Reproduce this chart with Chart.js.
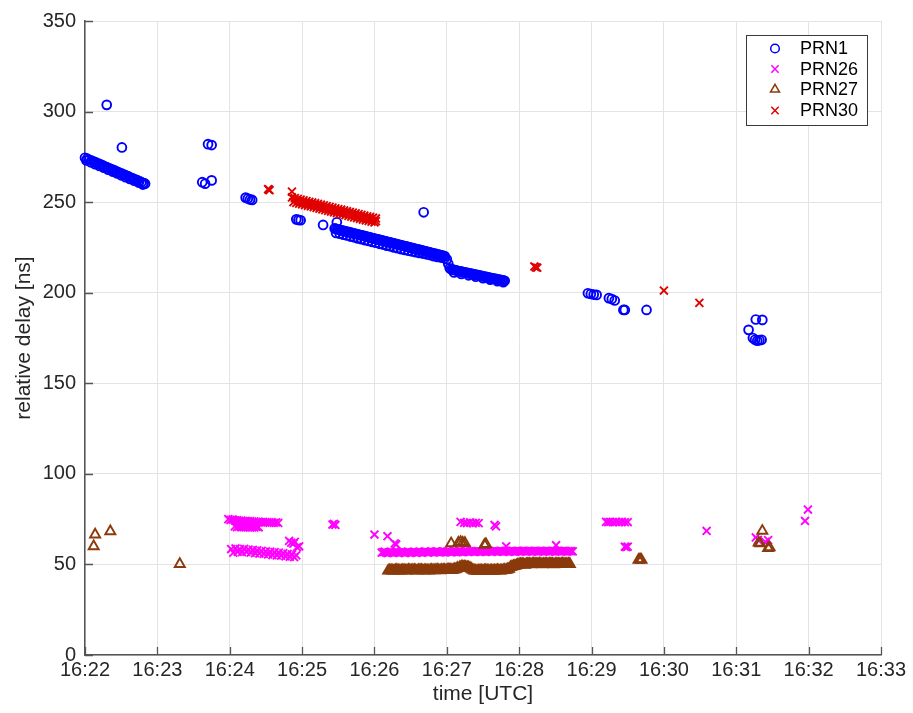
<!DOCTYPE html>
<html>
<head>
<meta charset="utf-8">
<style>
  html, body { margin: 0; padding: 0; background: #ffffff; }
  #wrap { width: 913px; height: 713px; position: relative; }
</style>
<script src="https://cdn.jsdelivr.net/npm/chart.js@4.4.1/dist/chart.umd.min.js"></script>
</head>
<body>
<div id="wrap"><canvas id="c" width="913" height="713"></canvas></div>
<script>
// x values: minutes after 16:00 (UTC); y values: relative delay [ns]
const xTickLabels = ['16:22','16:23','16:24','16:25','16:26','16:27','16:28','16:29','16:30','16:31','16:32','16:33'];
const yTickLabels = [0, 50, 100, 150, 200, 250, 300, 350];
const seriesNames = ['PRN1', 'PRN26', 'PRN27', 'PRN30'];

const prn1Time = [
  22.00,22.03,22.06,22.09,22.12,22.15,22.18,22.21,22.24,22.27,22.30,22.33,22.36,22.39,22.42,22.45,22.48,22.51,22.54,22.57,22.60,22.63,22.66,22.69,22.72,22.75,22.78,22.81,22.83,
  22.02,22.08,22.14,22.20,22.26,22.32,22.38,22.44,22.50,22.56,22.62,22.68,22.74,22.80,
  22.30,22.51,23.62,23.66,23.75,23.70,23.75,24.22,24.25,24.28,24.31,24.92,24.95,24.98,25.29,25.48,
  25.45,25.49,25.53,25.57,25.61,25.65,25.69,25.73,25.77,25.81,25.85,25.89,25.93,25.97,26.01,26.05,26.09,26.13,26.17,26.21,26.25,26.29,26.33,26.37,26.41,26.45,26.49,26.53,26.57,26.61,26.65,26.69,26.73,26.77,26.81,26.85,26.89,26.93,26.97,
  25.47,25.51,25.55,25.59,25.63,25.67,25.71,25.75,25.79,25.83,25.87,25.91,25.95,25.99,26.03,26.07,26.11,26.15,26.19,26.23,26.27,26.31,26.35,26.39,26.43,26.47,26.51,26.55,26.59,26.63,26.67,26.71,26.75,26.79,26.83,26.87,26.91,26.95,
  27.00,27.02,27.04,27.08,27.12,27.16,27.20,27.24,27.28,27.32,27.36,27.40,27.44,27.48,27.52,27.56,27.60,27.64,27.68,27.72,27.76,27.80,
  27.06,27.10,27.14,27.18,27.22,27.26,27.30,27.34,27.38,27.42,27.46,27.50,27.54,27.58,27.62,27.66,27.70,27.74,27.78,
  25.47,25.52,25.57,25.62,25.67,25.72,25.77,25.82,25.87,25.92,25.97,26.02,26.07,26.12,26.17,26.22,26.27,26.32,26.37,26.42,26.47,26.52,26.57,26.62,26.67,26.72,26.77,26.82,26.87,26.92,26.97,
  27.10,27.20,27.30,27.40,27.50,27.60,27.70,27.78,
  26.68,
  28.95,28.99,29.03,29.07,29.24,29.28,29.32,29.44,29.46,29.76,
  31.17,31.23,31.26,31.29,31.32,31.35,31.27,31.36
];
const prn1Delay = [
  274.5,274.0,273.4,273.0,272.4,271.9,271.4,270.9,270.4,269.8,269.3,268.8,268.3,267.8,267.3,266.7,266.2,265.7,265.2,264.7,264.2,263.6,263.1,262.6,262.1,261.6,261.0,260.5,260.2,
  273.0,272.0,271.0,270.0,269.0,267.9,266.9,265.9,264.8,263.8,262.8,261.8,260.8,259.7,
  303.7,280.2,261.0,260.2,262.0,282.0,281.5,252.5,252.0,251.5,251.2,240.5,240.2,240.0,237.4,238.9,
  235.5,235.0,234.6,234.2,233.8,233.4,233.0,232.6,232.2,231.8,231.4,231.0,230.6,230.2,229.8,229.4,229.0,228.6,228.2,227.8,227.4,227.0,226.6,226.2,225.8,225.4,225.0,224.6,224.2,223.8,223.4,223.0,222.6,222.2,221.8,221.4,221.0,220.6,220.2,
  235.2,234.8,234.4,234.0,233.6,233.2,232.8,232.4,232.0,231.6,231.2,230.8,230.4,230.0,229.6,229.2,228.8,228.4,228.0,227.6,227.2,226.8,226.4,226.0,225.6,225.2,224.8,224.4,224.0,223.6,223.2,222.8,222.4,222.0,221.6,221.2,220.8,220.4,
  218.5,216.0,213.5,212.8,212.4,212.0,211.6,211.3,211.0,210.6,210.3,209.9,209.6,209.3,208.9,208.6,208.2,207.9,207.6,207.2,206.9,206.6,
  213.0,212.6,212.2,211.8,211.5,211.1,210.8,210.5,210.1,209.8,209.4,209.1,208.8,208.4,208.1,207.7,207.4,207.1,206.8,
  233.0,232.6,232.0,231.6,231.0,230.6,230.0,229.6,229.0,228.6,228.0,227.6,227.0,226.6,226.0,225.6,225.0,224.6,224.0,223.6,223.2,222.8,222.4,222.0,221.6,221.2,220.8,220.2,219.8,219.4,219.0,
  211.2,210.4,209.6,208.8,208.0,207.2,206.4,205.8,
  244.4,
  199.7,199.3,199.0,198.8,197.0,196.5,195.7,190.5,190.5,190.5,
  179.5,175.0,174.0,173.5,173.8,174.0,185.2,185.0
];

const prn26Time = [
  23.98,24.01,24.04,24.07,24.10,24.13,24.16,24.19,24.22,24.25,24.28,24.31,24.34,24.37,24.40,24.43,24.46,24.49,24.52,24.55,24.58,24.61,24.64,24.67,
  24.07,24.10,24.13,24.16,24.19,24.22,24.25,24.28,24.31,24.34,24.37,24.40,
  24.02,24.05,24.08,24.11,24.14,24.17,24.20,24.23,24.26,24.29,24.32,24.35,24.38,24.41,24.44,24.47,24.50,24.53,24.56,24.59,24.62,24.65,24.68,24.71,24.74,24.77,24.80,24.83,24.86,24.89,24.92,
  24.82,24.85,24.88,24.93,24.96,24.90,
  25.42,25.44,25.46,26.00,26.18,26.28,26.30,
  26.10,26.14,26.18,26.22,26.26,26.30,26.34,26.38,26.42,26.46,26.50,26.54,26.58,26.62,26.66,26.70,26.74,26.78,26.82,26.86,26.90,26.94,26.98,27.02,27.06,27.10,27.14,27.18,27.22,27.26,27.30,27.34,27.38,27.42,27.46,27.50,27.54,27.58,27.62,27.66,27.70,27.74,27.78,27.82,27.86,27.90,27.94,27.98,28.02,28.06,28.10,28.14,28.18,28.22,28.26,28.30,28.34,28.38,28.42,28.46,28.50,28.54,28.58,28.62,28.66,28.70,28.74,
  26.12,26.16,26.20,26.24,26.28,26.32,26.36,26.40,26.44,26.48,26.52,26.56,26.60,26.64,26.68,26.72,26.76,26.80,26.84,26.88,26.92,26.96,27.00,27.04,27.08,27.12,27.16,27.20,27.24,27.28,27.32,27.36,27.40,27.44,27.48,27.52,27.56,27.60,27.64,27.68,27.72,27.76,27.80,27.84,27.88,27.92,27.96,28.00,28.04,28.08,28.12,28.16,28.20,28.24,28.28,28.32,28.36,28.40,28.44,28.48,28.52,28.56,28.60,28.64,28.68,28.72,
  27.82,28.51,
  27.19,27.24,27.28,27.32,27.36,27.40,27.44,27.66,27.68,
  29.20,29.23,29.26,29.30,29.34,29.38,29.42,29.46,29.50,29.46,29.48,29.50,
  30.59,31.27,31.30,31.44,31.40,31.95,31.99
];
const prn26Delay = [
  75.0,74.6,74.8,74.3,74.5,74.0,74.2,73.8,74.0,73.7,73.9,73.5,73.8,73.4,73.6,73.2,73.5,73.1,73.4,73.0,73.3,73.0,73.2,72.9,
  71.0,70.6,70.9,70.5,70.8,70.4,70.7,70.3,70.6,70.4,70.7,70.5,
  58.5,56.5,58.8,57.0,58.5,56.8,58.6,57.0,58.2,56.5,58.0,56.2,57.8,56.0,57.5,55.8,57.2,55.5,57.0,55.2,56.8,55.0,56.5,54.8,56.2,54.5,55.8,54.2,55.5,54.0,55.0,
  63.0,62.0,61.5,59.5,60.0,62.5,
  72.0,72.4,71.8,66.5,65.6,61.6,61.0,
  56.5,57.0,56.3,56.8,56.4,57.0,56.5,56.8,56.3,57.0,56.5,56.9,56.4,57.0,56.6,57.1,56.5,57.0,56.7,57.2,56.6,57.0,56.8,57.2,56.7,57.3,56.9,57.2,56.8,57.4,56.9,57.3,57.0,57.4,56.9,57.3,57.0,57.4,57.0,57.5,57.1,57.4,57.0,57.5,57.1,57.4,57.0,57.5,57.2,57.5,57.1,57.4,57.2,57.5,57.1,57.4,57.2,57.5,57.1,57.4,57.2,57.5,57.2,57.4,57.1,57.4,57.2,
  56.8,56.6,56.6,56.6,56.7,56.8,56.6,56.6,56.7,56.8,56.7,56.7,56.7,56.8,56.9,56.8,56.8,56.9,57.0,56.9,56.8,56.9,57.0,57.0,57.0,57.1,57.0,57.0,57.1,57.2,57.1,57.2,57.2,57.2,57.1,57.2,57.2,57.2,57.3,57.3,57.2,57.2,57.3,57.3,57.2,57.2,57.3,57.3,57.4,57.3,57.3,57.3,57.4,57.3,57.3,57.3,57.4,57.3,57.3,57.3,57.4,57.3,57.3,57.3,57.3,57.3,
  60.0,60.6,
  73.5,73.0,72.8,73.2,72.8,73.0,72.8,71.8,71.0,
  73.5,73.3,73.5,73.3,73.5,73.3,73.5,73.3,73.4,59.8,59.5,59.8,
  68.5,64.9,63.5,63.4,62.5,74.0,80.3
];

const prn27Time = [
  22.14,22.12,22.35,23.31,
  26.19,26.23,26.27,26.31,26.35,26.39,26.43,26.47,26.51,26.55,26.59,26.63,26.67,26.71,26.75,26.79,26.83,26.87,26.91,26.95,26.99,27.03,27.07,27.11,
  26.21,26.25,26.29,26.33,26.37,26.41,26.45,26.49,26.53,26.57,26.61,26.65,26.69,26.73,26.77,26.81,26.85,26.89,26.93,26.97,27.01,27.05,27.09,27.13,27.15,
  27.18,27.22,27.26,27.30,27.34,27.20,27.24,27.28,27.32,27.36,
  27.38,27.42,27.46,27.50,27.54,27.58,27.62,27.66,27.70,27.74,27.78,27.82,27.86,
  27.40,27.44,27.48,27.52,27.56,27.60,27.64,27.68,27.72,27.76,27.80,27.84,
  27.88,27.92,27.96,28.00,28.04,28.08,28.12,28.16,28.20,28.24,28.28,28.32,28.36,28.40,28.44,28.48,28.52,28.56,28.60,28.64,28.68,
  27.90,27.94,27.98,28.02,28.06,28.10,28.14,28.18,28.22,28.26,28.30,28.34,28.38,28.42,28.46,28.50,28.54,28.58,28.62,28.66,28.70,
  27.06,27.16,27.19,27.22,27.25,27.52,27.54,
  29.65,29.67,29.69,
  31.36,31.31,31.33,31.44,31.46
];
const prn27Delay = [
  66.5,60.0,68.3,50.2,
  46.5,46.8,46.6,46.9,46.6,46.8,46.6,46.9,46.7,46.9,46.6,46.9,46.7,46.8,46.6,46.9,46.7,47.0,46.7,47.0,46.8,47.2,46.9,47.3,
  46.7,46.6,46.8,46.7,46.7,46.8,46.7,46.8,46.8,46.7,46.8,46.8,46.7,46.7,46.8,46.8,46.9,46.8,46.9,46.9,47.0,47.0,47.1,47.5,48.0,
  48.5,48.8,48.6,48.3,47.5,48.7,48.7,48.5,48.0,47.0,
  46.6,46.4,46.7,46.5,46.8,46.5,46.7,46.5,46.8,46.6,46.8,47.0,47.5,
  46.5,46.6,46.6,46.7,46.6,46.6,46.6,46.7,46.7,46.7,46.9,47.2,
  48.5,49.0,49.5,50.0,50.2,49.8,50.3,50.0,50.4,50.1,50.4,50.0,50.3,50.1,50.4,50.0,50.3,50.1,50.4,50.1,50.3,
  48.8,49.2,49.8,50.1,50.0,50.1,50.2,50.2,50.3,50.2,50.2,50.2,50.2,50.3,50.2,50.2,50.2,50.3,50.2,50.2,50.2,
  61.6,62.0,62.3,62.0,61.8,60.8,61.2,
  52.5,52.8,52.5,
  68.5,62.0,61.6,59.0,59.4
];

const prn30Time = [
  24.53,24.54,24.55,24.86,
  24.86,24.90,24.94,24.98,25.02,25.06,25.10,25.14,25.18,25.22,25.26,25.30,25.34,25.38,25.42,25.46,25.50,25.54,25.58,25.62,25.66,25.70,25.74,25.78,25.82,25.86,25.90,25.94,25.98,26.02,
  24.88,24.96,25.04,25.12,25.20,25.28,25.36,25.44,25.52,25.60,25.68,25.76,25.84,25.92,26.00,26.02,
  24.92,25.00,25.08,25.16,25.24,25.32,25.40,25.48,25.56,25.64,25.72,25.80,25.88,25.96,
  28.21,28.23,28.25,30.00,30.49
];
const prn30Delay = [
  257.2,256.9,256.6,255.8,
  252.6,252.2,251.8,251.4,251.0,250.6,250.2,249.8,249.4,249.0,248.6,248.2,247.8,247.4,247.0,246.6,246.2,245.8,245.4,245.0,244.6,244.2,243.8,243.4,243.0,242.6,242.2,241.8,241.4,241.0,
  250.0,249.2,248.4,247.6,246.8,246.0,245.2,244.4,243.6,242.8,242.0,241.2,240.4,239.6,238.8,239.5,
  249.6,248.8,248.0,247.2,246.4,245.6,244.8,244.0,243.2,242.4,241.6,240.8,240.0,239.2,
  214.5,214.0,213.8,201.2,194.4
];

const colors = ['#0000ff', '#ff00ff', '#8a3a0b', '#e00000'];
const styles = ['circle', 'crossRot', 'triangle', 'crossRot'];
const radii = [4.4, 5.6, 5.8, 5.6];

function pts(xs, ys) { return xs.map((x, i) => ({ x: x, y: ys[i] })); }
const allData = [pts(prn1Time, prn1Delay), pts(prn26Time, prn26Delay), pts(prn27Time, prn27Delay), pts(prn30Time, prn30Delay)];

const datasets = seriesNames.map((name, i) => ({
  label: name,
  data: allData[i],
  showLine: false,
  clip: 8,
  pointStyle: styles[i],
  pointRadius: radii[i],
  pointBorderColor: colors[i],
  pointBackgroundColor: 'rgba(0,0,0,0)',
  pointBorderWidth: 1.9,
  order: 4 - i
}));

const FONT = "'Liberation Sans', Arial, Helvetica, sans-serif";

const ticksPlugin = {
  id: 'inwardTicks',
  afterDatasetsDraw(chart) {
    const ctx = chart.ctx;
    const xs = chart.scales.x, ys = chart.scales.y;
    const a = chart.chartArea;
    ctx.save();
    ctx.strokeStyle = '#555555';
    ctx.lineWidth = 1.3;
    ctx.beginPath();
    ys.ticks.forEach(t => {
      const py = Math.round(ys.getPixelForValue(t.value)) + 0.5;
      ctx.moveTo(a.left, py); ctx.lineTo(a.left + 8, py);
    });
    xs.ticks.forEach(t => {
      const px = Math.round(xs.getPixelForValue(t.value)) + 0.5;
      ctx.moveTo(px, a.bottom); ctx.lineTo(px, a.bottom - 8);
    });
    ctx.stroke();
    ctx.restore();
  }
};

function drawMarker(ctx, style, x, y, r, color) {
  ctx.save();
  ctx.strokeStyle = color;
  ctx.lineWidth = 1.5;
  ctx.beginPath();
  if (style === 'circle') {
    ctx.arc(x, y, r, 0, Math.PI * 2);
  } else if (style === 'crossRot') {
    const d = r * Math.SQRT1_2;
    ctx.moveTo(x - d, y - d); ctx.lineTo(x + d, y + d);
    ctx.moveTo(x + d, y - d); ctx.lineTo(x - d, y + d);
  } else if (style === 'triangle') {
    let rad = 0;
    ctx.moveTo(x + Math.sin(rad) * r, y - Math.cos(rad) * r);
    rad += 2 * Math.PI / 3;
    ctx.lineTo(x + Math.sin(rad) * r, y - Math.cos(rad) * r);
    rad += 2 * Math.PI / 3;
    ctx.lineTo(x + Math.sin(rad) * r, y - Math.cos(rad) * r);
    ctx.closePath();
  }
  ctx.stroke();
  ctx.restore();
}

const legendPlugin = {
  id: 'boxLegend',
  afterDraw(chart) {
    const ctx = chart.ctx;
    const bx = 746, by = 35, bw = 121, bh = 90;
    ctx.save();
    ctx.fillStyle = '#ffffff';
    ctx.fillRect(bx, by, bw, bh);
    ctx.strokeStyle = '#3a3a3a';
    ctx.lineWidth = 1;
    ctx.strokeRect(bx + 0.5, by + 0.5, bw, bh);
    ctx.font = '18px ' + FONT;
    ctx.fillStyle = '#000000';
    ctx.textBaseline = 'middle';
    ctx.textAlign = 'left';
    const rows = [48.5, 69, 89.5, 110.5];
    seriesNames.forEach((name, i) => {
      drawMarker(ctx, styles[i], 775, rows[i], i === 0 ? 4.3 : 5.2, colors[i]);
      ctx.fillText(name, 800, rows[i] + 1);
    });
    ctx.restore();
  }
};

new Chart(document.getElementById('c'), {
  type: 'scatter',
  data: { datasets: datasets },
  plugins: [ticksPlugin, legendPlugin],
  options: {
    responsive: false,
    animation: false,
    events: [],
    layout: { padding: { top: 20, right: 32, left: 0, bottom: 0 } },
    plugins: { legend: { display: false }, tooltip: { enabled: false } },
    scales: {
      x: {
        type: 'linear',
        min: 22, max: 33,
        afterFit: s => { s.height = 58; },
        afterBuildTicks: s => { s.ticks = xTickLabels.map((l, i) => ({ value: 22 + i })); },
        ticks: {
          callback: (v) => xTickLabels[Math.round(v - 22)],
          font: { family: FONT, size: 20 },
          color: '#262626',
          padding: 3,
          maxRotation: 0,
          autoSkip: false
        },
        grid: { color: '#e3e3e3', lineWidth: 1, drawTicks: false },
        border: { display: true, color: '#555555', width: 1.5 },
        title: {
          display: true, text: 'time [UTC]',
          font: { family: FONT, size: 21 }, color: '#262626',
          padding: { top: 0, bottom: 6 }
        }
      },
      y: {
        min: 0, max: 350,
        afterFit: s => { s.width = 85; },
        afterBuildTicks: s => { s.ticks = yTickLabels.map(v => ({ value: v })); },
        ticks: {
          callback: (v) => String(v),
          font: { family: FONT, size: 20 },
          color: '#262626',
          padding: 9
        },
        grid: { color: '#e3e3e3', lineWidth: 1, drawTicks: false },
        border: { display: true, color: '#555555', width: 1.5 },
        title: {
          display: true, text: 'relative delay [ns]',
          font: { family: FONT, size: 21 }, color: '#262626',
          padding: { top: 12, bottom: 0 }
        }
      }
    }
  }
});
</script>
</body>
</html>
